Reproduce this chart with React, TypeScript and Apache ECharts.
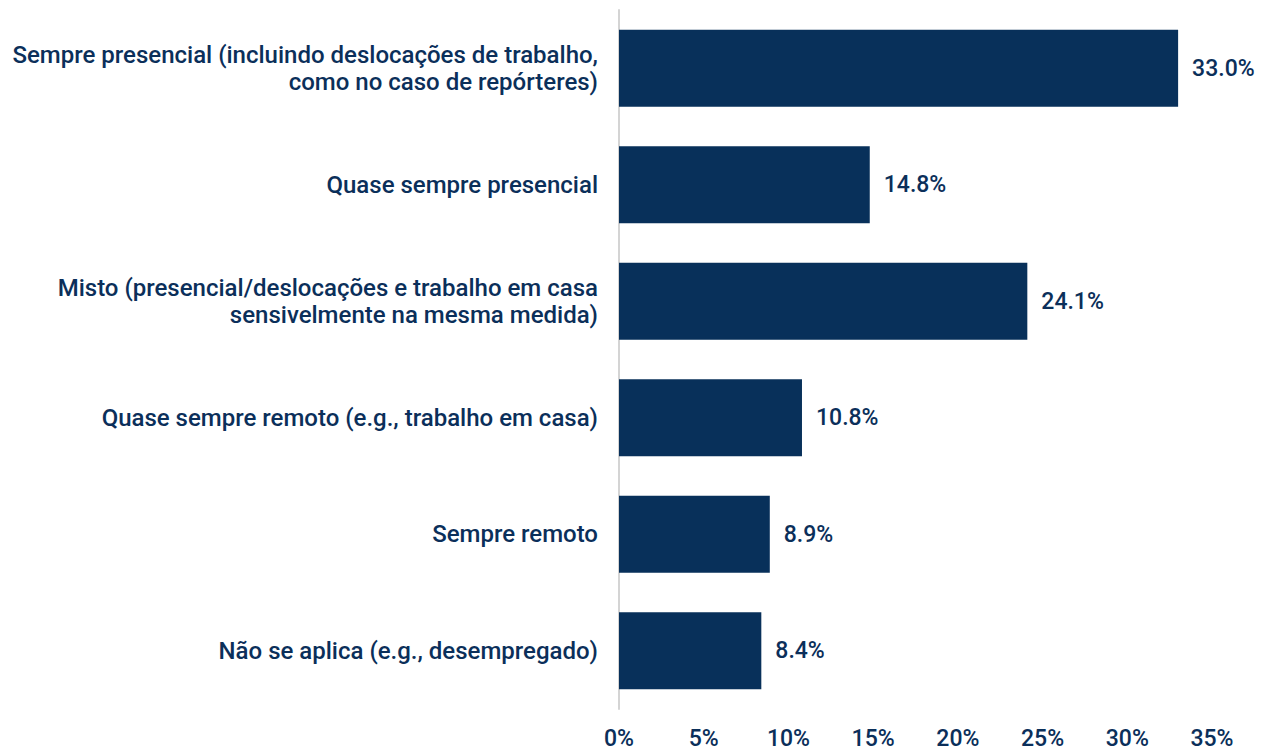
import React, { useEffect, useRef } from "react";
import * as echarts from "echarts";

const categories = [
  "Sempre presencial (incluindo deslocações de trabalho,\ncomo no caso de repórteres)",
  "Quase sempre presencial",
  "Misto (presencial/deslocações e trabalho em casa\nsensivelmente na mesma medida)",
  "Quase sempre remoto (e.g., trabalho em casa)",
  "Sempre remoto",
  "Não se aplica (e.g., desempregado)",
];
const values = [33.0, 14.8, 24.1, 10.8, 8.9, 8.4];

const TEXT = "#0b2f5a";
const BAR = "#08305a";

export default function App() {
  const ref = useRef<HTMLDivElement>(null);
  useEffect(() => {
    const chart = echarts.init(ref.current!, null, { renderer: "svg" });
    chart.setOption({
      animation: false,
      textStyle: { fontFamily: "Roboto" },
      grid: { left: 619, right: 54, top: 10, bottom: 42, containLabel: false },
      xAxis: {
        type: "value",
        min: 0,
        max: 35,
        interval: 5,
        axisLine: { show: false },
        axisTick: { show: false },
        splitLine: { show: false },
        axisLabel: {
          formatter: "{value}%",
          color: TEXT,
          fontSize: 23,
          fontWeight: 500,
          fontFamily: "Roboto",
          margin: 18,
          lineHeight: 22,
        },
      },
      yAxis: {
        type: "category",
        data: categories,
        inverse: true,
        axisLine: { show: true, lineStyle: { color: "#d4d4d4", width: 2 } },
        axisTick: { show: false },
        axisLabel: {
          color: TEXT,
          fontSize: 24,
          fontWeight: 500,
          fontFamily: "Roboto",
          margin: 21,
          align: "right",
          lineHeight: 27,
        },
      },
      series: [
        {
          type: "bar",
          data: values,
          barCategoryGap: "34%",
          itemStyle: { color: BAR },
          label: {
            show: true,
            position: "right",
            distance: 14,
            color: TEXT,
            fontSize: 23,
            fontWeight: 500,
            fontFamily: "Roboto",
            formatter: (p: any) => p.value.toFixed(1) + "%",
          },
        },
      ],
    });
    return () => chart.dispose();
  }, []);
  return <div ref={ref} style={{ width: 1266, height: 751, position: "absolute", left: 0, top: 0 }} />;
}
